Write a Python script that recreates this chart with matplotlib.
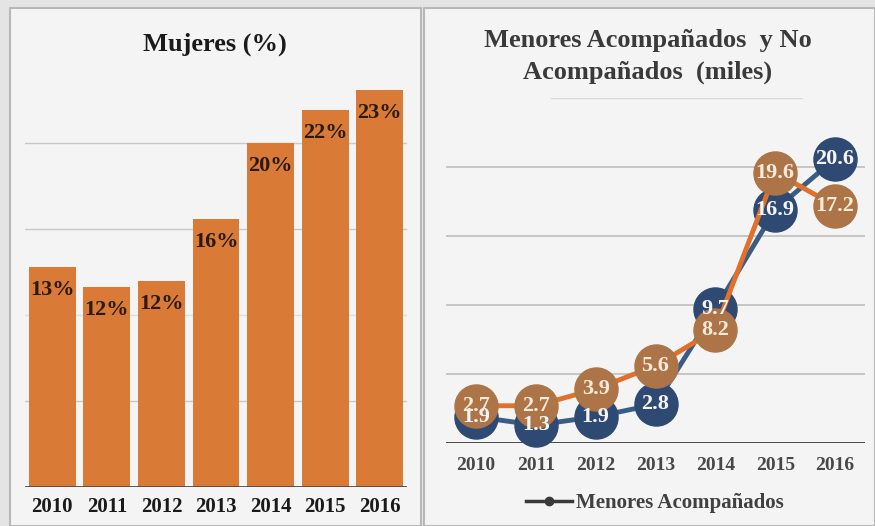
import matplotlib
matplotlib.use("Agg")
import matplotlib.pyplot as plt
from matplotlib.patches import Rectangle
from matplotlib.lines import Line2D

years = ["2010", "2011", "2012", "2013", "2014", "2015", "2016"]
mujeres_pct = [12.8, 11.6, 12.0, 15.6, 20.0, 21.9, 23.1]
menores_acomp = [1.9, 1.3, 1.9, 2.8, 9.7, 16.9, 20.6]
menores_no_acomp = [2.7, 2.7, 3.9, 5.6, 8.2, 19.6, 17.2]

W, H = 875, 526
fig = plt.figure(figsize=(W / 100, H / 100), dpi=100, facecolor="#e4e4e4")
SERIF = ["Liberation Serif", "DejaVu Serif"]

def fx(px):
    return px / W

def fy(py):
    return 1 - py / H

# panels
fig.patches.append(Rectangle((fx(10), 0), fx(411), fy(8), transform=fig.transFigure,
                             facecolor="#f4f4f4", edgecolor="#b8b8b8", lw=1.5, zorder=-5))
fig.patches.append(Rectangle((fx(424), 0), fx(451), fy(8), transform=fig.transFigure,
                             facecolor="#f4f4f4", edgecolor="#b8b8b8", lw=1.5, zorder=-5))

# ---- left: bar chart ----
ax1 = fig.add_axes([fx(25), fy(487), fx(382), (487 - 57) / H])
ax1.set_facecolor("none")
x = list(range(len(years)))
ax1.bar(x, mujeres_pct, width=0.86, color="#d97b36", zorder=2)
ax1.set_xlim(-0.5, 6.5)
ax1.set_ylim(0, 25)
for v, c in zip([5, 10, 15, 20], ["#c8c8c8", "#dedede", "#c8c8c8", "#c8c8c8"]):
    ax1.axhline(v, color=c, lw=1, zorder=1)
ax1.axhline(0, color="#4a4a4a", lw=2, zorder=3)
for xi, h in zip(x, mujeres_pct):
    ax1.annotate(f"{h:.0f}%", (xi, h), xytext=(0, -16.5), textcoords="offset points",
                 ha="center", va="center", fontsize=16, fontweight="bold",
                 family=SERIF, color="#2a1a10", zorder=4)
ax1.set_xticks(x)
ax1.set_xticklabels(years, fontsize=15, fontweight="bold", family=SERIF, color="#1a1a1a")
ax1.tick_params(axis="x", length=0, pad=7)
ax1.set_yticks([])
for s in ax1.spines.values():
    s.set_visible(False)
fig.text(fx(215), fy(44), "Mujeres (%)", ha="center", va="center", fontsize=19,
         fontweight="bold", family=SERIF, color="#1a1a1a")

# ---- right: line chart ----
ax2 = fig.add_axes([fx(446), fy(443), fx(419), (443 - 98) / H])
ax2.set_facecolor("none")
ax2.set_xlim(-0.5, 6.5)
ax2.set_ylim(0, 25)
for v in [5, 10, 15, 20]:
    ax2.axhline(v, color="#bdbdbd", lw=1.2, zorder=1)
ax2.axhline(25, xmin=0.25, xmax=0.85, color="#dadada", lw=1, zorder=1)
ax2.axhline(0, color="#3a3a3a", lw=2, zorder=2)

blue_line = "#3b5d85"
blue_mark = "#2e4a72"
orange_line = "#e0702a"
orange_mark = "#ad7448"

ax2.plot(x, menores_acomp, color=blue_line, lw=3.5, marker="o", markersize=31,
         markerfacecolor=blue_mark, markeredgecolor=blue_mark, zorder=3, clip_on=False)
ax2.plot(x, menores_no_acomp, color=orange_line, lw=3.5, marker="o", markersize=31,
         markerfacecolor=orange_mark, markeredgecolor=orange_mark, zorder=4, clip_on=False)
for xi, v in zip(x, menores_acomp):
    ax2.text(xi, v, f"{v}", ha="center", va="center", fontsize=16, fontweight="bold",
             family=SERIF, color="#f4f4f4", zorder=6)
for xi, v in zip(x, menores_no_acomp):
    ax2.text(xi, v, f"{v}", ha="center", va="center", fontsize=16, fontweight="bold",
             family=SERIF, color="#f8ead8", zorder=6)

ax2.set_xticks(x)
ax2.set_xticklabels(years, fontsize=14, fontweight="bold", family=SERIF, color="#484848")
ax2.tick_params(axis="x", length=0, pad=10)
ax2.set_yticks([])
for s in ax2.spines.values():
    s.set_visible(False)

fig.text(fx(648), fy(40), "Menores Acompañados  y No", ha="center", va="center",
         fontsize=19, fontweight="bold", family=SERIF, color="#3a3a3a")
fig.text(fx(648), fy(72), "Acompañados  (miles)", ha="center", va="center",
         fontsize=19, fontweight="bold", family=SERIF, color="#3a3a3a")

handle = Line2D([], [], color="#3a3a3a", lw=2.5, marker="o", markersize=6,
                markerfacecolor="#3a3a3a")
fig.legend([handle], ["Menores Acompañados"], loc="center", bbox_to_anchor=(fx(655), fy(503)),
           frameon=False, handlelength=2.2, handletextpad=0.2,
           prop={"family": SERIF, "size": 15, "weight": "bold"}, labelcolor="#404040")

fig.savefig("out.png", dpi=100, facecolor=fig.get_facecolor())
